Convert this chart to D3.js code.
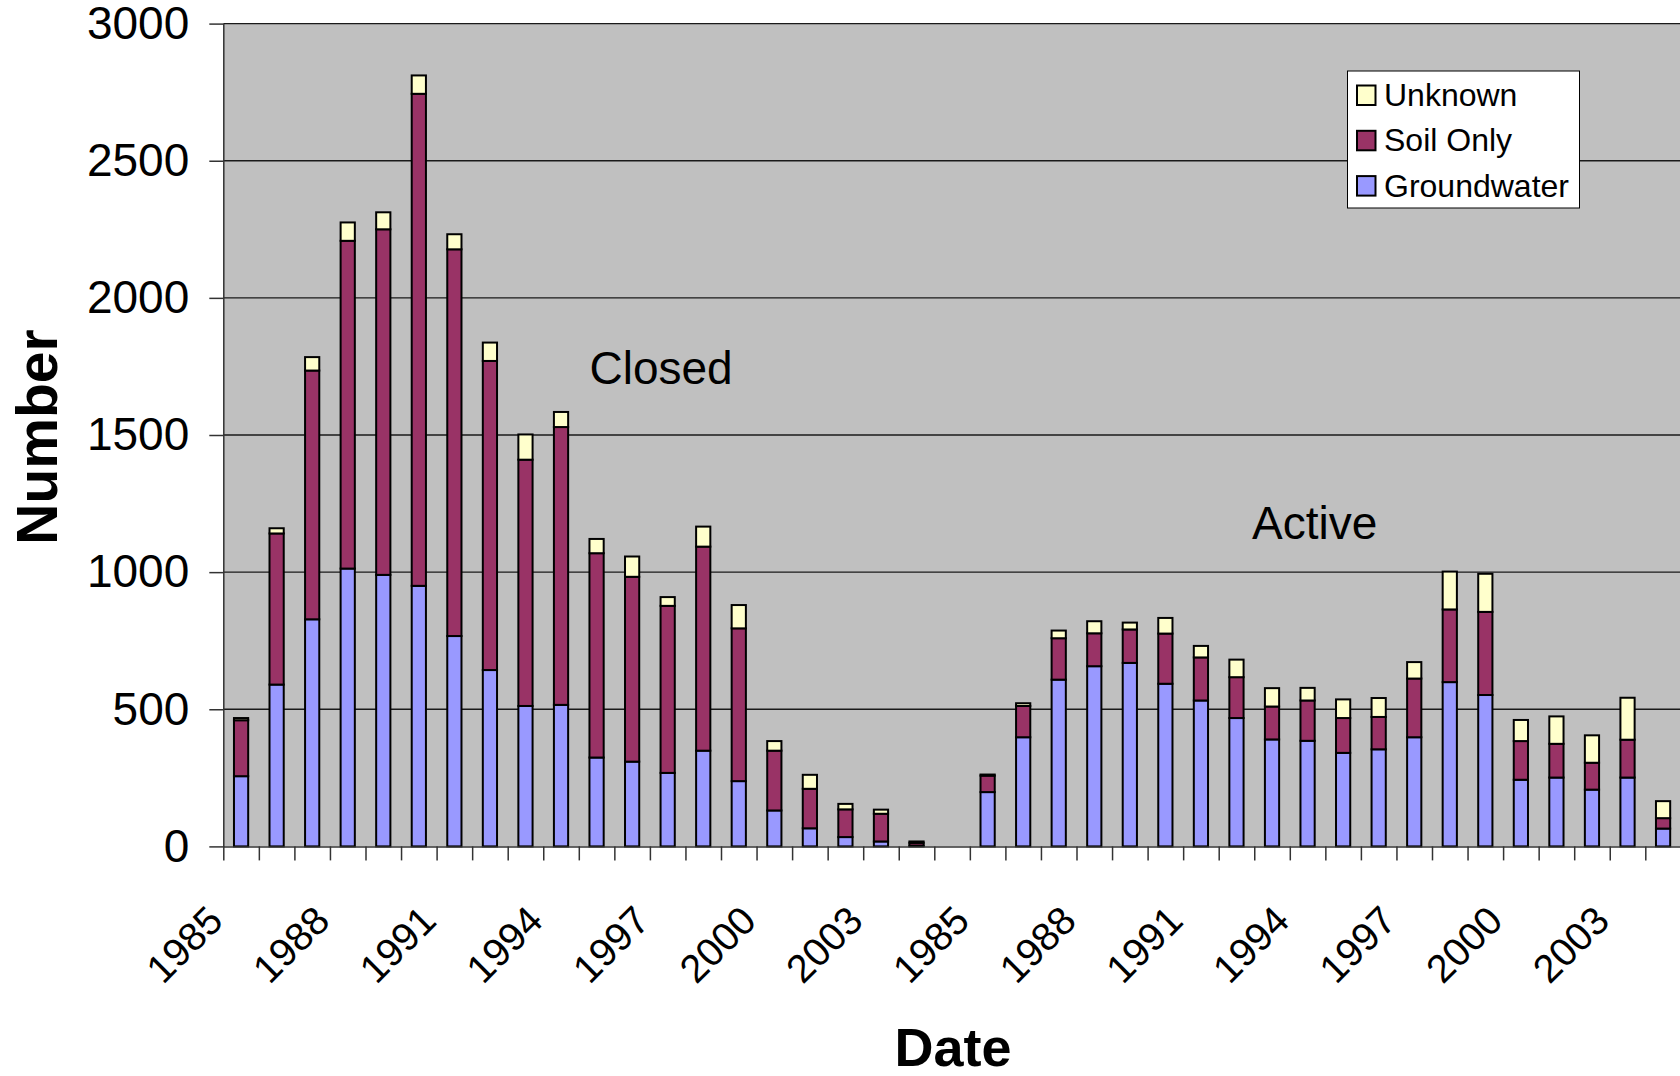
<!DOCTYPE html>
<html>
<head>
<meta charset="utf-8">
<script src="https://cdn.jsdelivr.net/npm/d3@7"></script>
<style>
  html, body { margin: 0; padding: 0; background: #fff; }
  svg { display: block; font-family: "Liberation Sans", Arial, sans-serif; }
</style>
</head>
<body>
<svg id="chart" width="1680" height="1076"></svg>
<script>
// ---------------- data ----------------
const groups = ["Closed", "Active"];
const years = [1985, 1986, 1987, 1988, 1989, 1990, 1991, 1992, 1993, 1994, 1995,
               1996, 1997, 1998, 1999, 2000, 2001, 2002, 2003, 2004, 2005];
const seriesNames = ["Unknown", "Soil Only", "Groundwater"];
const seriesColors = ["#FFFFCC", "#993366", "#9999FF"];

const closedGroundwater = [256, 590, 828, 1013, 990, 950, 767, 643, 512, 516, 324,
                           309, 268, 349, 238, 131, 66, 34, 18, 3, 0];
const closedSoil        = [204, 551, 907, 1195, 1260, 1794, 1410, 1127, 898, 1013, 745,
                           674, 609, 744, 557, 218, 144, 101, 101, 10, 0];
const closedUnknown     = [8, 19, 49, 67, 62, 67, 55, 67, 92, 55, 52,
                           74, 32, 73, 85, 35, 51, 20, 15, 5, 0];

const activeGroundwater = [198, 398, 608, 657, 669, 593, 532, 468, 390, 385, 341,
                           354, 398, 599, 552, 243, 251, 207, 251, 65, 0];
const activeSoil        = [60, 114, 151, 120, 122, 183, 157, 149, 120, 147, 127,
                           118, 214, 265, 303, 141, 123, 98, 138, 38, 0];
const activeUnknown     = [4, 10, 28, 44, 25, 57, 42, 64, 67, 46, 68,
                           69, 60, 138, 139, 77, 100, 100, 153, 62, 0];

const yTicks = [0, 500, 1000, 1500, 2000, 2500, 3000];
const labelEvery = 3;

// ---------------- build rows ----------------
const rows = [];
groups.forEach(g => {
  const gw = g === "Closed" ? closedGroundwater : activeGroundwater;
  const so = g === "Closed" ? closedSoil : activeSoil;
  const un = g === "Closed" ? closedUnknown : activeUnknown;
  years.forEach((yr, i) => {
    rows.push({ key: g + "-" + yr, group: g, year: yr, index: i,
                Groundwater: gw[i], "Soil Only": so[i], Unknown: un[i] });
  });
});

// ---------------- layout ----------------
const W = 1680, H = 1076;
const plotLeft = 223.3, plotTop = 23.6, plotBottom = 846.4, catStep = 35.55;
const plotRight = plotLeft + catStep * rows.length;

const svg = d3.select("#chart");
svg.append("rect").attr("width", W).attr("height", H).attr("fill", "#fff");

const x = d3.scaleBand()
  .domain(rows.map(d => d.key))
  .range([plotLeft, plotRight])
  .paddingInner(0.6)
  .paddingOuter(0.3);

const y = d3.scaleLinear().domain([0, 3000]).range([plotBottom, plotTop]);

// plot background
svg.append("rect")
  .attr("x", plotLeft).attr("y", plotTop)
  .attr("width", plotRight - plotLeft).attr("height", plotBottom - plotTop)
  .attr("fill", "#C0C0C0");

// gridlines
svg.append("g")
  .selectAll("line")
  .data(yTicks.filter(v => v > 0))
  .join("line")
  .attr("x1", plotLeft).attr("x2", plotRight)
  .attr("y1", d => y(d)).attr("y2", d => y(d))
  .attr("stroke", "#1a1a1a").attr("stroke-width", 1.3);

// stacked bars
const stackKeys = ["Groundwater", "Soil Only", "Unknown"];
const colorOf = d3.scaleOrdinal().domain(seriesNames).range(seriesColors);
const stacked = d3.stack().keys(stackKeys)(rows);

svg.append("g")
  .selectAll("g")
  .data(stacked)
  .join("g")
  .attr("fill", d => colorOf(d.key))
  .selectAll("rect")
  .data(d => d.filter(s => s[1] - s[0] > 0))
  .join("rect")
  .attr("x", d => x(d.data.key))
  .attr("width", x.bandwidth())
  .attr("y", d => y(d[1]))
  .attr("height", d => y(d[0]) - y(d[1]))
  .attr("stroke", "#000")
  .attr("stroke-width", 2);

// y axis
const yAxis = d3.axisLeft(y).tickValues(yTicks).tickFormat(d3.format("d"))
  .tickSize(14).tickSizeOuter(0).tickPadding(20);
const gy = svg.append("g").attr("transform", `translate(${plotLeft},0)`).call(yAxis);
gy.select(".domain").attr("stroke", "#333").attr("stroke-width", 1.5);
gy.selectAll(".tick line").attr("stroke", "#333").attr("stroke-width", 1.5);
gy.selectAll(".tick text")
  .attr("font-size", 46)
  .attr("fill", "#000")
  .attr("font-family", "Liberation Sans, Arial, sans-serif");

// x axis: tick marks at category boundaries
const xb = d3.scaleLinear().domain([0, rows.length]).range([plotLeft, plotRight]);
const xAxis = d3.axisBottom(xb)
  .tickValues(d3.range(0, rows.length + 1))
  .tickSize(14).tickSizeOuter(0).tickFormat("");
const gx = svg.append("g").attr("transform", `translate(0,${plotBottom})`).call(xAxis);
gx.select(".domain").attr("stroke", "#333").attr("stroke-width", 1.5);
gx.selectAll(".tick line").attr("stroke", "#333").attr("stroke-width", 1.5);

// x labels, rotated
svg.append("g")
  .selectAll("text")
  .data(rows.filter(d => d.index % labelEvery === 0))
  .join("text")
  .attr("transform", d => `translate(${x(d.key) + x.bandwidth() / 2 - 16},923) rotate(-45)`)
  .attr("text-anchor", "end")
  .attr("font-size", 39.5)
  .attr("fill", "#000")
  .text(d => d.year);

// axis titles
svg.append("text")
  .attr("transform", "translate(57,437) rotate(-90)")
  .attr("text-anchor", "middle")
  .attr("font-size", 57)
  .attr("font-weight", "bold")
  .text("Number");

svg.append("text")
  .attr("x", 953).attr("y", 1066)
  .attr("text-anchor", "middle")
  .attr("font-size", 54)
  .attr("font-weight", "bold")
  .text("Date");

// group annotations
const annotations = [
  { text: "Closed", x: 589.5, y: 383.5 },
  { text: "Active", x: 1252, y: 538.5 }
];
svg.append("g")
  .selectAll("text")
  .data(annotations)
  .join("text")
  .attr("x", d => d.x).attr("y", d => d.y)
  .attr("font-size", 46)
  .attr("fill", "#000")
  .text(d => d.text);

// legend
const lg = svg.append("g");
lg.append("rect")
  .attr("x", 1347.5).attr("y", 71)
  .attr("width", 232).attr("height", 137)
  .attr("fill", "#fff").attr("stroke", "#000").attr("stroke-width", 1);
const lItems = lg.selectAll("g.item")
  .data(seriesNames)
  .join("g")
  .attr("class", "item")
  .attr("transform", (d, i) => `translate(0,${i * 45.3})`);
lItems.append("rect")
  .attr("x", 1357).attr("y", 85.5)
  .attr("width", 18.5).attr("height", 19.5)
  .attr("fill", d => colorOf(d))
  .attr("stroke", "#000").attr("stroke-width", 2);
lItems.append("text")
  .attr("x", 1384).attr("y", 106)
  .attr("font-size", 32)
  .attr("fill", "#000")
  .text(d => d);
</script>
</body>
</html>
